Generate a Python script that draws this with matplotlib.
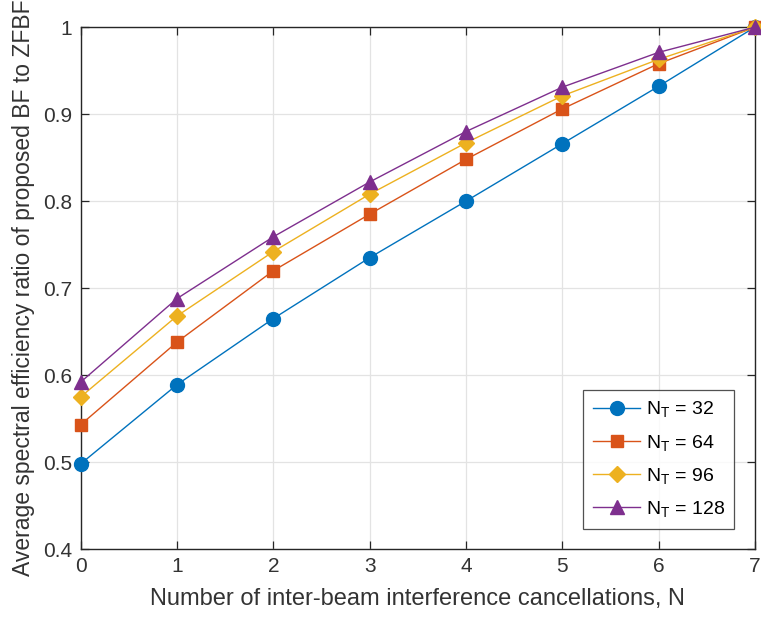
import matplotlib
matplotlib.use("Agg")
import matplotlib.pyplot as plt

plt.rcParams['font.family'] = ['Liberation Sans', 'DejaVu Sans']
plt.rcParams['mathtext.fontset'] = 'custom'
plt.rcParams['mathtext.rm'] = 'Liberation Sans'
plt.rcParams['mathtext.it'] = 'Liberation Sans'

N = [0, 1, 2, 3, 4, 5, 6, 7]
nt32 = [0.498, 0.589, 0.665, 0.735, 0.800, 0.866, 0.932, 1.0]
nt64 = [0.543, 0.638, 0.720, 0.785, 0.848, 0.906, 0.958, 1.0]
nt96 = [0.575, 0.668, 0.742, 0.808, 0.867, 0.921, 0.963, 1.0]
nt128 = [0.592, 0.688, 0.759, 0.822, 0.880, 0.931, 0.971, 1.0]
labels = [r'$\mathregular{N_T}$ = 32', r'$\mathregular{N_T}$ = 64',
          r'$\mathregular{N_T}$ = 96', r'$\mathregular{N_T}$ = 128']
colors = ['#0072BD', '#D95319', '#EDB120', '#7E2F8E']
markers = ['o', 's', 'D', '^']
msizes = [10, 8.5, 8.5, 10]
series = [nt32, nt64, nt96, nt128]

fig = plt.figure(figsize=(7.61, 6.17), dpi=100)
ax = fig.add_axes([0.106, 0.110, 0.886, 0.846])

for s, c, m, ms, lab in zip(series, colors, markers, msizes, labels):
    ax.plot(N, s, color=c, marker=m, markersize=ms, linewidth=1.0,
            markeredgecolor=c, markerfacecolor=c, label=lab, clip_on=False, zorder=3)

ax.set_xlim(0, 7)
ax.set_ylim(0.4, 1.0)
ax.set_xticks(N)
ax.set_yticks([0.4, 0.5, 0.6, 0.7, 0.8, 0.9, 1.0])
ax.set_yticklabels(['0.4', '0.5', '0.6', '0.7', '0.8', '0.9', '1'])
ax.grid(True, color='#e3e3e3', linewidth=0.9)
ax.set_axisbelow(True)
ax.tick_params(direction='in', top=True, right=True, length=6, width=0.9,
               colors='#262626', labelsize=15, labelcolor='#333333', pad=6)
for sp in ax.spines.values():
    sp.set_color('#262626')
    sp.set_linewidth(1.0)

ax.set_xlabel('Number of inter-beam interference cancellations, N', fontsize=17,
              color='#333333', labelpad=8)
ax.set_ylabel('Average spectral efficiency ratio of proposed BF to ZFBF', fontsize=16.5,
              color='#333333', labelpad=6)

leg = ax.legend(loc='lower right', fontsize=14, frameon=True, fancybox=False,
                edgecolor='#262626', borderaxespad=1.05, handlelength=2.4,
                labelspacing=0.68, borderpad=0.5, handletextpad=0.3)
leg.get_frame().set_linewidth(0.9)

fig.savefig('out.png', dpi=100)
